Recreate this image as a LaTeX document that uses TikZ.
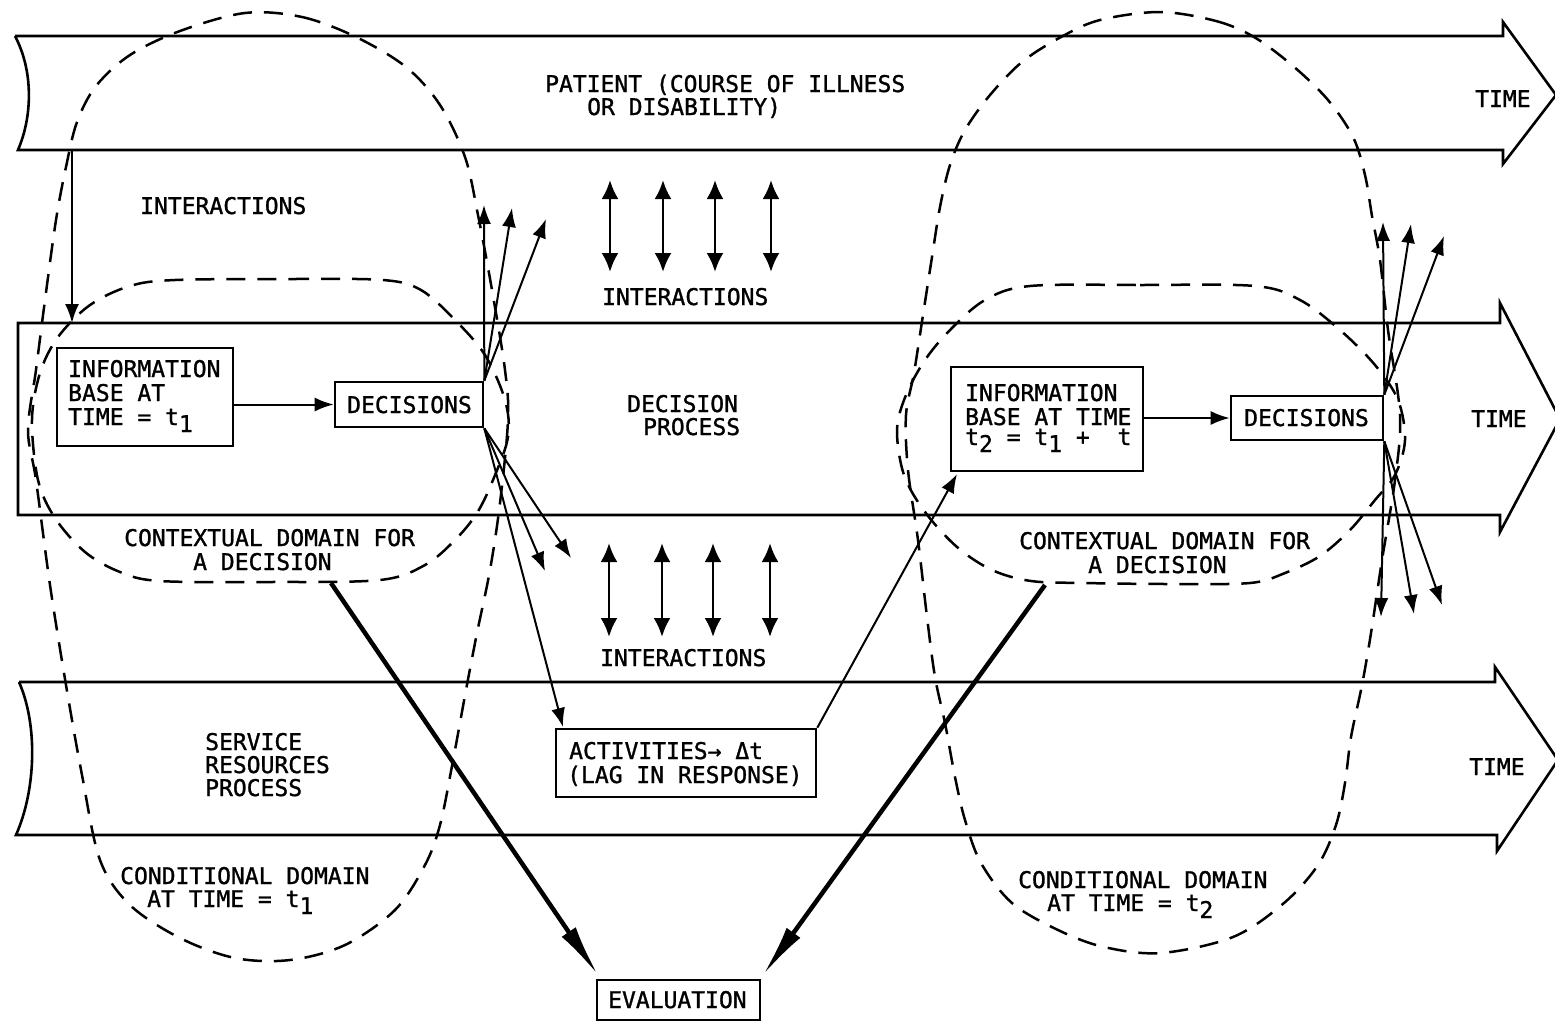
\documentclass[tikz,border=0pt]{standalone}
\usepackage{fontspec}
\newfontfamily\lgf[BoldFont={DejaVu Sans Mono}, BoldFeatures={FakeBold=1.2}]{DejaVu Sans Mono}
\usetikzlibrary{arrows.meta}
\newcommand{\sbx}[1]{\raisebox{-7pt}{#1}}
\begin{document}
\begin{tikzpicture}[x=1pt,y=-1pt,
  band/.style={draw, line width=2.6pt, line join=miter},
  dom/.style={draw, line width=2.5pt, dash pattern=on 19pt off 12pt},
  box/.style={draw, line width=2.6pt, fill=white, inner sep=0pt},
  lbl/.style={anchor=base west, inner sep=0pt, font=\lgf\bfseries\fontsize{23}{24}\selectfont},
  fanarrow/.style={line width=2pt, -{Latex[length=19pt,width=14pt]}},
  dbl/.style={line width=2.8pt, {Latex[length=19pt,width=17pt]}-{Latex[length=19pt,width=17pt]}},
  heavy/.style={line width=4.5pt, -{Latex[length=52pt,width=17pt]}}]
\fill[white] (0,0) rectangle (1555,1021);
\useasboundingbox (0,0) rectangle (1555,1021);

% bands
\draw[band] (15,36) -- (1503,36) -- (1503,22) -- (1556,95) -- (1503,164) -- (1503,150) -- (18,150) .. controls (33,115) and (33,70) .. (15,36);
\draw[band] (18,323) -- (1500,323) -- (1500,303) -- (1560,419) -- (1500,532) -- (1500,515) -- (18,515) -- cycle;
\draw[band] (19,682) -- (1495,682) -- (1495,667) -- (1558,760) -- (1497,851) -- (1497,835) -- (16,835) .. controls (36,790) and (38,725) .. (19,682);

% dashed domains
\draw[dom] plot[smooth cycle, tension=0.55] coordinates {
 (245,13) (302,17) (356,37) (406,67) (440,105) (465,157) (478,215) (492,290) (505,370) (508,420)
 (500,503) (490,570) (477,633) (466,690) (452,766) (440,825) (425,865) (395,910) (345,945) (290,960)
 (235,958) (180,938) (130,905) (100,860) (82,775) (66,685) (50,585) (36,480) (28,430) (36,370)
 (45,300) (56,220) (66,167) (77,122) (96,86) (130,55) (180,31)};
\draw[dom] plot[smooth cycle, tension=0.55] coordinates {
 (175,280) (290,279) (383,280) (421,290) (455,320) (485,355) (505,400) (508,437) (493,480) (477,513)
 (455,540) (425,565) (380,580) (270,582) (160,581) (120,572) (85,552) (55,518) (38,480) (32,420)
 (40,373) (58,337) (90,305) (130,286)};
\draw[dom] plot[smooth cycle, tension=0.55] coordinates {
 (1030,286) (1140,285) (1255,286) (1300,300) (1340,330) (1375,365) (1398,400) (1405,440) (1395,475) (1375,500)
 (1350,530) (1320,556) (1285,573) (1250,583) (1170,584) (1084,583) (1031,581) (992,570) (957,547) (925,512)
 (904,475) (897,430) (906,395) (925,360) (950,330) (985,300)};
\draw[dom] plot[smooth cycle, tension=0.55] coordinates {
 (1160,12) (1216,21) (1254,37) (1293,66) (1328,100) (1353,137) (1365,175) (1372,216) (1380,260) (1388,330)
 (1400,415) (1395,480) (1382,560) (1371,633) (1362,685) (1351,737) (1345,783) (1336,825) (1318,865) (1284,903)
 (1233,937) (1161,953) (1104,947) (1058,930) (1012,903) (981,863) (965,820) (955,777) (945,723) (935,677)
 (927,617) (918,540) (908,470) (906,415) (914,373) (923,315) (932,257) (940,207) (950,165) (965,130)
 (990,95) (1022,62) (1061,37) (1100,20)};

% boxes
\node[box, minimum width=176pt, minimum height=98pt] (ib1) at (145,397) {};
\node[box, minimum width=148pt, minimum height=45pt] (dec1) at (409,404.5) {};
\node[box, minimum width=192pt, minimum height=104pt] (ib2) at (1047,419) {};
\node[box, minimum width=152pt, minimum height=44pt] (dec2) at (1307,418) {};
\node[box, minimum width=260pt, minimum height=68pt] (act) at (686,763) {};
\node[box, minimum width=163pt, minimum height=40pt] (ev) at (678.5,1000) {};

% labels
\node[lbl] (lp1) at (545,92) {PATIENT (COURSE OF ILLNESS};
\node[lbl] (lp2) at (587,115) {OR DISABILITY)};
\node[lbl] (lt1) at (1475,107) {TIME};
\node[lbl] (lt2) at (1471,427) {TIME};
\node[lbl] (lt3) at (1469,775) {TIME};
\node[lbl] (li1) at (140,214) {INTERACTIONS};
\node[lbl] (li2) at (602,305) {INTERACTIONS};
\node[lbl] (li3) at (600,666) {INTERACTIONS};
\node[lbl] (ld1) at (627,412) {DECISION};
\node[lbl] (ld2) at (643,435) {PROCESS};
\node[lbl] (ls1) at (205,750) {SERVICE};
\node[lbl] (ls2) at (205,773) {RESOURCES};
\node[lbl] (ls3) at (205,796) {PROCESS};
\node[lbl] (lc1) at (124,546) {CONTEXTUAL DOMAIN FOR};
\node[lbl] (lc2) at (193,570) {A DECISION};
\node[lbl] (lc3) at (1019,549) {CONTEXTUAL DOMAIN FOR};
\node[lbl] (lc4) at (1088,573) {A DECISION};
\node[lbl] (lk1) at (120,884) {CONDITIONAL DOMAIN};
\node[lbl] (lk2) at (147,907) {AT TIME = t\sbx{1}};
\node[lbl] (lk3) at (1018,888) {CONDITIONAL DOMAIN};
\node[lbl] (lk4) at (1047,911) {AT TIME = t\sbx{2}};
\node[lbl] (lb1) at (68,377) {INFORMATION};
\node[lbl] (lb2) at (68,401) {BASE AT};
\node[lbl] (lb3) at (68,425) {TIME = t\sbx{1}};
\node[lbl] (lb4) at (965,401) {INFORMATION};
\node[lbl] (lb5) at (965,425) {BASE AT TIME};
\node[lbl] (lb6) at (965,445) {t\sbx{2} = t\sbx{1} +~~t};
\node[lbl] (ldc1) at (347,413) {DECISIONS};
\node[lbl] (ldc2) at (1244,426) {DECISIONS};
\node[lbl] (la1) at (569,759) {ACTIVITIES→ Δt};
\node[lbl] (la2) at (567,783) {(LAG IN RESPONSE)};
\node[lbl] (le) at (608,1008) {EVALUATION};

% coordinates for free ends
\coordinate (p1) at (72,150);
\coordinate (p2) at (72,323);
\coordinate (u1) at (484,205);
\coordinate (u2) at (512,208);
\coordinate (u3) at (546,219);
\coordinate (d1) at (545,571);
\coordinate (d2) at (571,558);
\coordinate (actin) at (563,727);
\coordinate (ib2in) at (957,474);
\coordinate (r1) at (1383,222);
\coordinate (r2) at (1411,224);
\coordinate (r3) at (1444,236);
\coordinate (s1) at (1381,617);
\coordinate (s2) at (1414,614);
\coordinate (s3) at (1442,605);
\coordinate (c1) at (331,583);
\coordinate (c2) at (1045,585);
\coordinate (e1) at (598,975);
\coordinate (e2) at (763,975);

% connectors
\draw[fanarrow] (p1) -- (p2);
\draw[fanarrow] (ib1.east |- dec1.west) -- (dec1.west);
\draw[fanarrow] (ib2.east |- dec2.west) -- (dec2.west);
\foreach \t in {u1,u2,u3} \draw[fanarrow] (dec1.north east) -- (\t);
\foreach \t in {d1,d2,actin} \draw[fanarrow] (dec1.south east) -- (\t);
\foreach \t in {r1,r2,r3} \draw[fanarrow] (dec2.north east) -- (\t);
\foreach \t in {s1,s2,s3} \draw[fanarrow] (dec2.south east) -- (\t);
\draw[fanarrow] (act.north east) -- (ib2in);
\draw[heavy] (c1) -- (e1);
\draw[heavy] (c2) -- (e2);

% interaction double arrows
\foreach \x in {610,663,715,771} \draw[dbl] (\x,180) -- (\x,272);
\foreach \x in {609,662,713,770} \draw[dbl] (\x,543) -- (\x,637);
\end{tikzpicture}
\end{document}
